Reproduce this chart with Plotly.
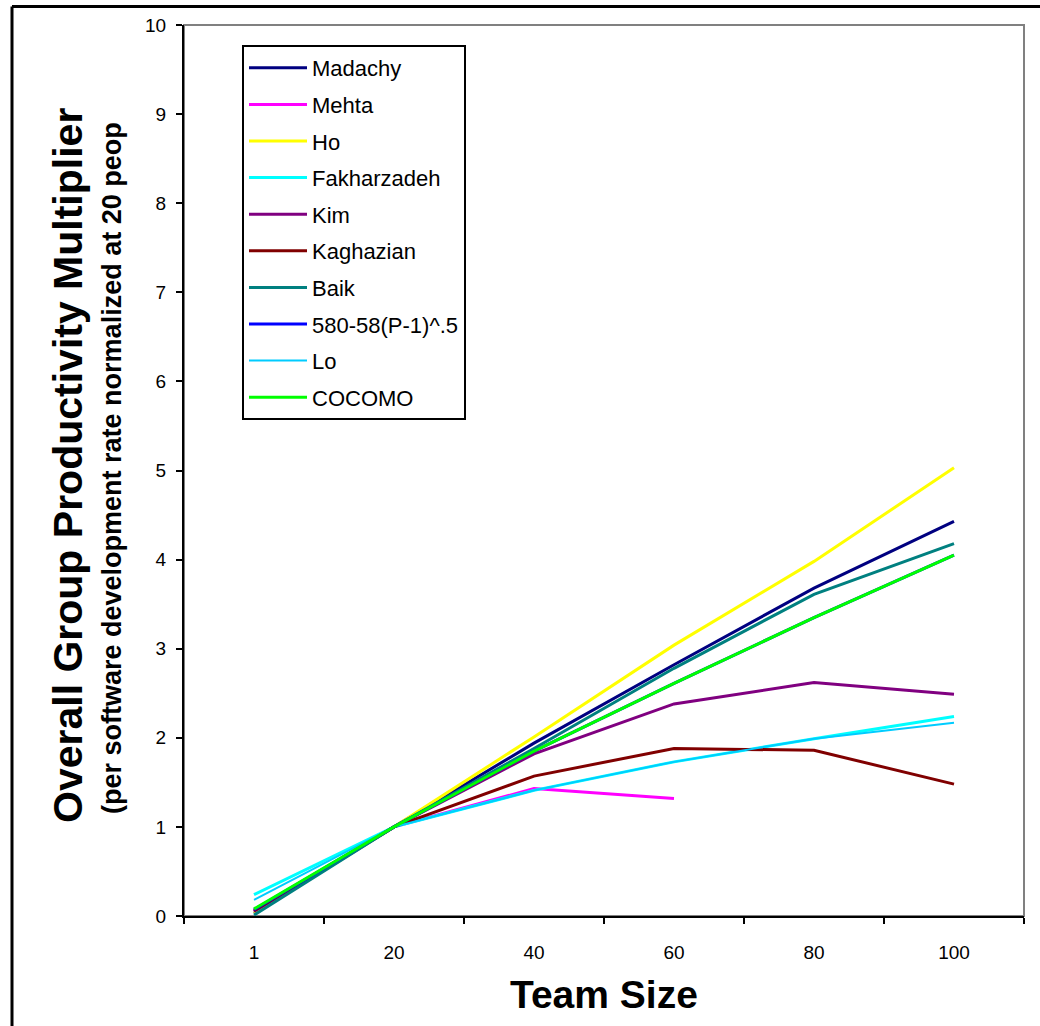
import plotly.graph_objects as go

team_sizes = ["1", "20", "40", "60", "80", "100"]

madachy = [0.03, 1.0, 1.94, 2.82, 3.68, 4.43]
mehta = [0.05, 1.0, 1.43, 1.32, None, None]
ho = [0.03, 1.0, 2.01, 3.04, 3.98, 5.03]
fakharzadeh = [0.24, 1.0, 1.41, 1.73, 1.99, 2.24]
kim = [0.05, 1.0, 1.82, 2.38, 2.62, 2.49]
kaghazian = [0.06, 1.0, 1.57, 1.88, 1.86, 1.48]
baik = [0.01, 1.0, 1.88, 2.78, 3.61, 4.18]
formula_580 = [0.07, 1.0, 1.85, 2.61, 3.35, 4.05]
lo = [0.18, 1.0, 1.41, 1.73, 1.99, 2.17]
cocomo = [0.08, 1.0, 1.85, 2.61, 3.35, 4.05]

series = [
    ("Madachy", madachy, "#000080", 3),
    ("Mehta", mehta, "#FF00FF", 3),
    ("Ho", ho, "#FFFF00", 3),
    ("Fakharzadeh", fakharzadeh, "#00FFFF", 3),
    ("Kim", kim, "#800080", 3),
    ("Kaghazian", kaghazian, "#800000", 3),
    ("Baik", baik, "#008080", 3),
    ("580-58(P-1)^.5", formula_580, "#0000FF", 3),
    ("Lo", lo, "#00CCFF", 2),
    ("COCOMO", cocomo, "#00FF00", 3),
]

FONT = "Liberation Sans, Arial, sans-serif"

fig = go.Figure()
for i, (name, vals, color, w) in enumerate(series):
    fig.add_trace(go.Scatter(
        x=team_sizes, y=vals, name=name, mode="lines",
        line=dict(color=color, width=w),
        legendgroup=f"g{i}", connectgaps=False,
    ))

W, H = 1040, 1026
L, R, T, B = 184, 16, 25, 110
pw, ph = W - L - R, H - T - B

def px_x(p):
    return (p - L) / pw

def px_y(p):
    return (H - B - p) / ph

fig.update_layout(
    width=W, height=H,
    margin=dict(l=L, r=R, t=T, b=B),
    paper_bgcolor="white", plot_bgcolor="white",
    font=dict(family=FONT, color="black"),
    showlegend=True,
    legend=dict(
        x=px_x(242), y=px_y(45), xanchor="left", yanchor="top",
        bordercolor="black", borderwidth=2, bgcolor="white",
        font=dict(size=22, family=FONT, color="black"),
        traceorder="grouped", tracegroupgap=5, itemwidth=58,
    ),
    xaxis=dict(
        type="category", range=[-0.5, 5.5],
        showline=True, linecolor="black", linewidth=2,
        ticks="outside", tickson="boundaries", ticklen=6, tickwidth=2, tickcolor="black",
        showgrid=False, zeroline=False,
        tickfont=dict(size=19, family=FONT, color="black"),
        ticklabelstandoff=18,
    ),
    yaxis=dict(
        range=[0, 10], dtick=1, tick0=0,
        showline=True, linecolor="black", linewidth=2,
        ticks="outside", ticklen=6, tickwidth=2, tickcolor="black",
        showgrid=False, zeroline=False,
        tickfont=dict(size=19, family=FONT, color="black"),
        ticklabelstandoff=6,
    ),
)

# plot area border (gray, top/right)
fig.add_shape(type="rect", xref="paper", yref="paper", x0=0, y0=0, x1=1, y1=1,
              line=dict(color="#808080", width=2), layer="below")
# outer chart frame (top and left edges visible)
fig.add_shape(type="line", xref="paper", yref="paper",
              x0=px_x(12), x1=px_x(1045), y0=px_y(6.5), y1=px_y(6.5),
              line=dict(color="black", width=3))
fig.add_shape(type="line", xref="paper", yref="paper",
              x0=px_x(12), x1=px_x(12), y0=px_y(6.5), y1=px_y(1030),
              line=dict(color="black", width=3))

fig.add_annotation(
    text="<b>Overall Group Productivity Multiplier</b>",
    xref="paper", yref="paper", x=px_x(68), y=px_y(466),
    xanchor="center", yanchor="middle", textangle=-90, showarrow=False,
    font=dict(size=41, family=FONT, color="black"),
)
fig.add_annotation(
    text="<b>(per software development rate normalized at 20 peop</b>",
    xref="paper", yref="paper", x=px_x(112), y=px_y(468),
    xanchor="center", yanchor="middle", textangle=-90, showarrow=False,
    font=dict(size=27, family=FONT, color="black"),
)
fig.add_annotation(
    text="<b>Team Size</b>",
    xref="paper", yref="paper", x=0.5, y=px_y(995),
    xanchor="center", yanchor="middle", showarrow=False,
    font=dict(size=39, family=FONT, color="black"),
)

fig.write_html("out.html", config={"displayModeBar": False},
               post_script="document.body.style.margin='0';")
